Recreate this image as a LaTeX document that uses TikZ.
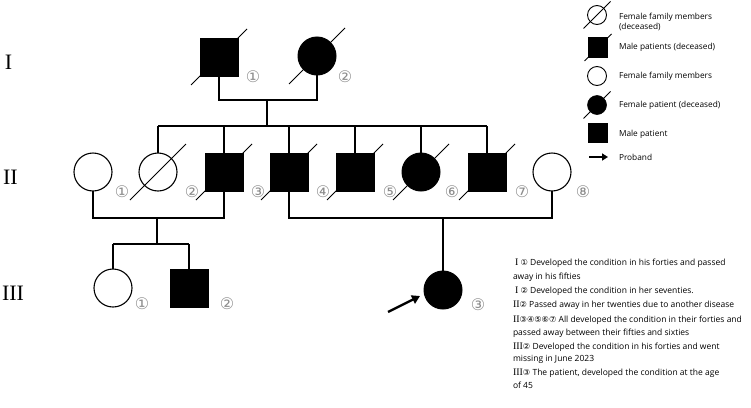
\documentclass[tikz,border=0pt]{standalone}
\usepackage{fontspec}
\setmainfont{Open Sans}
\newfontfamily\dejavu{DejaVu Sans}
\newfontfamily\tnr{Liberation Serif}
\usetikzlibrary{arrows.meta}
\newcommand\slashit[2]{\draw[slashln] ([shift={(-#2,#2)}]#1.center) -- ([shift={(#2,-#2)}]#1.center);}
\newcommand\cd[1]{{\dejavu\fontsize{8.2}{8}\selectfont #1}}
\newcommand\rn[1]{{\tnr\fontsize{10}{10}\selectfont #1}}
\begin{document}
\begin{tikzpicture}[x=1pt,y=-1pt,
  every node/.style={inner sep=0pt, outer sep=0pt},
  male/.style={draw, fill=black, minimum size=38pt, line width=1pt},
  fem/.style={circle, draw, fill=white, minimum size=38pt, line width=1.1pt},
  femp/.style={circle, draw, fill=black, minimum size=38pt, line width=1pt},
  lmale/.style={draw, fill=black, minimum size=19.5pt, line width=0.6pt},
  lfem/.style={circle, draw, fill=white, minimum size=19pt, line width=0.9pt},
  lfemp/.style={circle, draw, fill=black, minimum size=19pt, line width=0.6pt},
  num/.style={font=\dejavu\fontsize{16}{16}\selectfont, text=black!45},
  gen/.style={anchor=west, font=\tnr\fontsize{22}{22}\selectfont},
  legtxt/.style={anchor=west, font=\fontsize{8.3}{10}\selectfont, align=left},
  note/.style={anchor=base west, font=\fontsize{8.5}{10}\selectfont},
  link/.style={line width=1.1pt},
  slashln/.style={line width=1pt},
  arr/.style={line width=2.4pt, -{Triangle[length=8pt,width=9pt]}},
  larr/.style={line width=2pt, -{Triangle[length=6pt,width=7pt]}},
]
\useasboundingbox (0,0) rectangle (751,407);

% generation labels
\node[gen] (gI) at (5,62) {I};
\node[gen] (gII) at (3,177) {II};
\node[gen] (gIII) at (2,293) {III};

% coordinates for connectors
\coordinate (c1) at (267,100);
\coordinate (s1) at (267,126);
\coordinate (sL) at (158,126);
\coordinate (sR) at (487,126);
\coordinate (m2) at (157,218);
\coordinate (t2) at (157,244);
\coordinate (m3) at (443,218);
\coordinate (aS) at (388,312);
\coordinate (aE) at (420,296);

% connectors (drawn first)
\draw[link] (sL) -- (sR);
\draw[link] (c1) -- (s1);

% generation I
\node[male] (I1) at (219,57) {};
\node[femp] (I2) at (317,56) {};
\slashit{I1}{28}
\slashit{I2}{28}
\draw[link] (I1.south) |- (c1) -| (I2.south);
\node[num] (nI1) at (253,77) {①};
\node[num] (nI2) at (345,77) {②};

% generation II
\node[fem] (II1) at (93,172) {};
\node[fem] (II2) at (158,172) {};
\node[male] (II3) at (224,172) {};
\node[male] (II4) at (289,172) {};
\node[male] (II5) at (355,172) {};
\node[femp] (II6) at (421,172) {};
\node[male] (II7) at (487,172) {};
\node[fem] (II8) at (552,172) {};
\foreach \n in {II2,II3,II4,II5,II6,II7} {\slashit{\n}{28}}
\foreach \n in {II2,II3,II4,II5,II6,II7} {\draw[link] (\n.north) -- (\n.north |- sL);}
\node[num] (nII1) at (122,192) {①};
\node[num] (nII2) at (192,192) {②};
\node[num] (nII3) at (258,192) {③};
\node[num] (nII4) at (323,192) {④};
\node[num] (nII5) at (390,192) {⑤};
\node[num] (nII6) at (452,192) {⑥};
\node[num] (nII7) at (522,192) {⑦};
\node[num] (nII8) at (583,192) {⑧};

\draw[link] (II1.south) |- (m2) -| (II3.south);
\draw[link] (m2) -- (t2);
\draw[link] (II4.south) |- (m3) -| (II8.south);

% generation III
\node[fem] (III1) at (113,288) {};
\node[male] (III2) at (189,288) {};
\node[femp] (III3) at (443,290) {};
\draw[link] (III1.north |- t2) -- (III2.north |- t2);
\draw[link] (III1.north) -- (III1.north |- t2);
\draw[link] (III2.north) -- (III2.north |- t2);
\draw[link] (m3) -- (III3.north);
\node[num] (nIII1) at (142,304) {①};
\node[num] (nIII2) at (227,304) {②};
\node[num] (nIII3) at (478,305) {③};
\draw[arr] (aS) -- (aE);

% legend
\node[lfem] (L1) at (597,15) {};
\slashit{L1}{13.5}
\node[legtxt] (L1t) at (619,22) {Female family members\\(deceased)};
\node[lmale] (L2) at (598,47.5) {};
\slashit{L2}{13.5}
\node[legtxt] (L2t) at (619,47) {Male patients (deceased)};
\node[lfem] (L3) at (597,76) {};
\node[legtxt] (L3t) at (619,76) {Female family members};
\node[lfemp] (L4) at (597,105) {};
\slashit{L4}{13.5}
\node[legtxt] (L4t) at (619,105) {Female patient (deceased)};
\node[lmale] (L5) at (598,133) {};
\node[legtxt] (L5t) at (619,134) {Male patient};
\coordinate (L6s) at (589,157);
\coordinate (L6e) at (608,157);
\draw[larr] (L6s) -- (L6e);
\node[legtxt] (L6t) at (619,157) {Proband};

% notes
\node[note] (n1) at (515,265.5) {\rn{I} \cd{①} Developed the condition in his forties and passed};
\node[note] (n2) at (513,279.5) {away in his fifties};
\node[note] (n3) at (515,293.5) {\rn{I} \cd{②} Developed the condition in her seventies.};
\node[note] (n4) at (513,307.5) {\rn{II}\cd{②} Passed away in her twenties due to another disease};
\node[note] (n5) at (513,322) {\rn{II}\cd{③④⑤⑥⑦} All developed the condition in their forties and};
\node[note] (n6) at (513,335) {passed away between their fifties and sixties};
\node[note] (n7) at (513,349) {\rn{III}\cd{②} Developed the condition in his forties and went};
\node[note] (n8) at (513,361.5) {missing in June 2023};
\node[note] (n9) at (513,375.5) {\rn{III}\cd{③} The patient, developed the condition at the age};
\node[note] (n10) at (513,388.5) {of 45};
\end{tikzpicture}
\end{document}
